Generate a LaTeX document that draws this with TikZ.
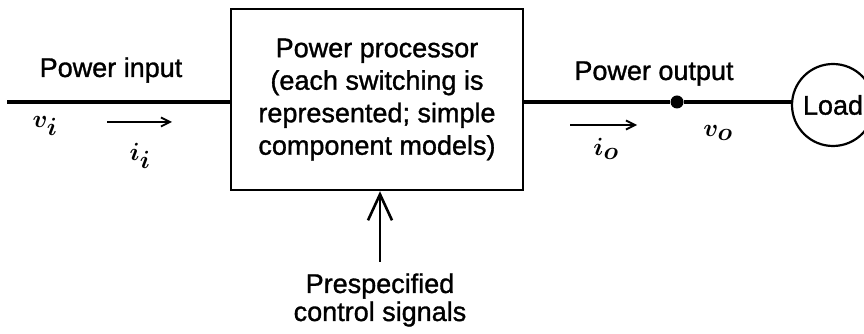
\documentclass[tikz,border=0pt]{standalone}
\usepackage{amsmath}
\usepackage{fontspec}
\setmainfont{Liberation Sans}[FakeBold=1.2]
\usetikzlibrary{arrows.meta}
\tikzset{
  lbl/.style={font=\fontsize{27}{32.5}\selectfont, inner sep=0pt},
  mlbl/.style={font=\fontsize{34}{36}\selectfont, inner sep=0pt},
  wire/.style={line width=3.4pt},
  boxst/.style={draw, line width=2.4pt, minimum width=292pt, minimum height=181pt, align=center, font=\fontsize{27}{32.5}\selectfont},
  cur/.style={line width=1.8pt, -{Straight Barb[length=9pt,width=9pt,line width=1.8pt]}},
  ctl/.style={line width=2.2pt, -{Straight Barb[length=26pt,width=24pt,line width=2.6pt]}}
}
\begin{document}
\begin{tikzpicture}[x=1pt,y=1pt]
\useasboundingbox (0,0) rectangle (864,334);
\node[boxst] (box) at (377,234.5) {Power processor\\(each switching is\\represented; simple\\component models)};
\coordinate (in) at (7,232);
\node[draw, circle, line width=2.2pt, minimum size=82pt, inner sep=0pt, font=\fontsize{27}{32.5}\selectfont] (load) at (833,229) {Load};
\node[circle, fill, inner sep=0pt, minimum size=13pt] (dot) at (677,232) {};
\draw[wire] (in) -- (in -| box.west);
\draw[wire] (box.east |- dot) -- (dot) -- (load.west |- dot);
\node[lbl, anchor=base] (pin) at (111,257) {Power input};
\node[lbl, anchor=base] (pout) at (654,254) {Power output};
\node[mlbl] (vi) at (45,208) {$\boldsymbol{v_i}$};
\node[mlbl] (ii) at (140,178) {$\boldsymbol{i_i}$};
\node[mlbl] (io) at (606,185) {$\boldsymbol{i_o}$};
\node[mlbl] (vo) at (718,201) {$\boldsymbol{v_o}$};
\coordinate (a1) at (107,212);
\coordinate (a2) at (172,212);
\draw[cur] (a1) -- (a2);
\coordinate (b1) at (570,209);
\coordinate (b2) at (637,209);
\draw[cur] (b1) -- (b2);
\coordinate (c1) at (380,72);
\draw[ctl] (c1) -- (c1 |- box.south);
\node[lbl, anchor=base] (ps) at (380,41) {Prespecified};
\node[lbl, anchor=base] (cs) at (380,13) {control signals};
\end{tikzpicture}
\end{document}
